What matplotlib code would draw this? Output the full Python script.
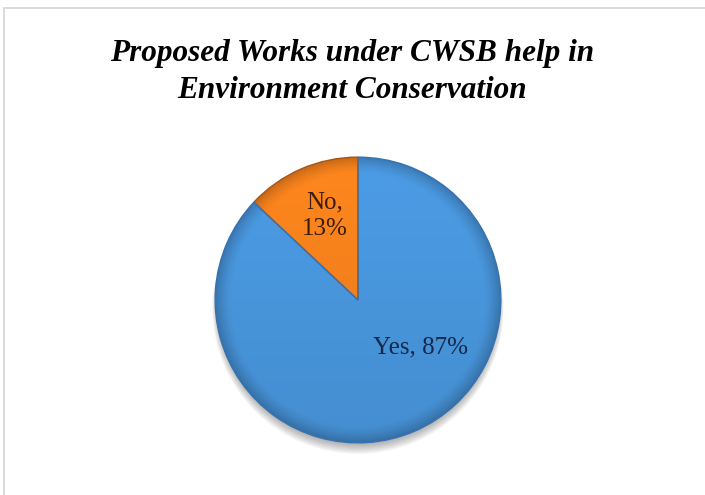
import numpy as np
import matplotlib
matplotlib.use("Agg")
import matplotlib.pyplot as plt
from matplotlib.patches import Circle, Rectangle

labels = ["No", "Yes"]
shares = [13, 87]
colors = ["#f3801c", "#4895db"]
edge_colors = ["#a85511", "#3672b3"]
text_colors = ["#3b1c08", "#14284a"]

plt.rcParams["font.family"] = "Liberation Serif"

W, H = 705, 495
fig = plt.figure(figsize=(W / 100, H / 100), dpi=100)
fig.patch.set_facecolor("white")

# light frame of the chart area
fig.patches.append(Rectangle((4 / W, -0.1), 1.2, 1 - 8 / H + 0.1, transform=fig.transFigure,
                             facecolor="none", edgecolor="#d4d4d4", lw=1.2))

fig.text(0.5, 1 - 72 / H, "Proposed Works under CWSB help in\nEnvironment Conservation",
         ha="center", va="center", fontsize=22.5, fontweight="bold", fontstyle="italic",
         linespacing=1.32)

cx, cy, half = 358, 300, 150
ax = fig.add_axes([(cx - half) / W, (H - cy - half) / H, 2 * half / W, 2 * half / H])

wedges, _ = ax.pie(shares, colors=colors, startangle=90, counterclock=True,
                   radius=1.0, center=(0, 0), frame=True,
                   wedgeprops=dict(linewidth=1.0, zorder=2))
ax.set_xlim(-1.05, 1.05)
ax.set_ylim(-1.05, 1.05)
ax.set_aspect("equal")
ax.axis("off")

# soft drop shadow below the pie
for k in range(8):
    sh = Circle((0.0, -0.03 - 0.004 * k), 0.985 + 0.005 * k, facecolor="#000000",
                alpha=0.04, lw=0, zorder=0)
    sh.set_clip_on(False)
    ax.add_patch(sh)

# bevel shading: darker towards the rim, slightly lighter in the upper part
n = 400
xx, yy = np.meshgrid(np.linspace(-1, 1, n), np.linspace(1, -1, n))
rr = np.hypot(xx, yy)
shade = np.where(rr > 0.88, 1.0 - 0.22 * ((rr - 0.88) / 0.12) ** 1.5, 1.0)
shade = shade * (1.0 + 0.05 * yy)
for w, c, ec in zip(wedges, colors, edge_colors):
    w.set_edgecolor(ec)
    base = np.array(matplotlib.colors.to_rgb(c))
    img = np.clip(base[None, None, :] * shade[:, :, None], 0, 1)
    im = ax.imshow(img, extent=(-1, 1, -1, 1), zorder=2.5, interpolation="bilinear")
    im.set_clip_path(w)
    w.set_facecolor("none")
    w.set_zorder(3)
ax.set_xlim(-1.05, 1.05)
ax.set_ylim(-1.05, 1.05)

# data labels
ax.text(-0.23, 0.59, f"{labels[0]},\n{shares[0]}%", ha="center", va="center",
        fontsize=18, color=text_colors[0], linespacing=1.22, zorder=4)
ax.text(0.44, -0.33, f"{labels[1]}, {shares[1]}%", ha="center", va="center",
        fontsize=18, color=text_colors[1], zorder=4)

fig.savefig("out.png", dpi=100)
